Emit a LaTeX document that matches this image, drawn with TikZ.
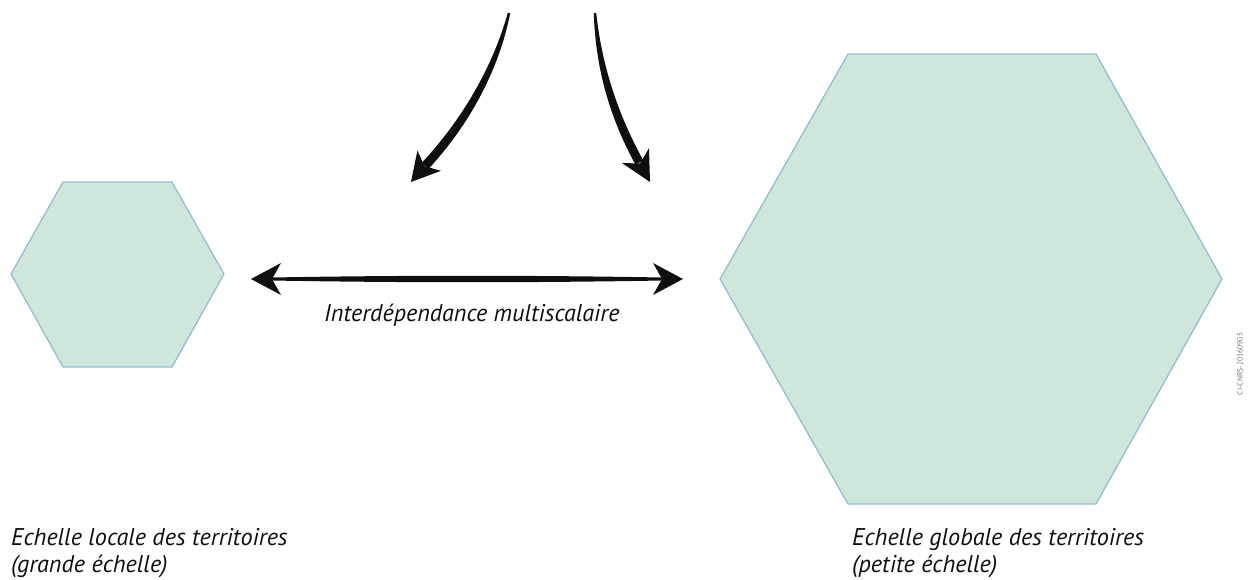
\documentclass[tikz,border=0pt]{standalone}
\usepackage{fontspec}
\setmainfont{PT Sans}
\usetikzlibrary{calc}
\definecolor{hexfill}{RGB}{206,230,219}
\definecolor{hexline}{RGB}{150,190,206}
\definecolor{ink}{RGB}{15,15,15}
\begin{document}
\begin{tikzpicture}[x=1pt,y=-1pt,
  hexa/.style={fill=hexfill,draw=hexline,line width=1.3pt,line join=miter},
  inkfill/.style={fill=ink,draw=none},
  caption/.style={font=\itshape\fontsize{24.2}{29}\selectfont,text=ink,inner sep=0pt,anchor=base west},
  stamp/.style={font=\fontsize{7.5}{8}\selectfont,text=black!55,inner sep=0pt,rotate=90}]
\useasboundingbox (0,0) rectangle (1251,579);

% small hexagon (local scale)
\coordinate (sW)  at (11,274);
\coordinate (sNW) at (63,182);
\coordinate (sNE) at (172,182);
\coordinate (sE)  at (224,274);
\coordinate (sSE) at (172,367);
\coordinate (sSW) at (63,367);
\draw[hexa] (sW) -- (sNW) -- (sNE) -- (sE) -- (sSE) -- (sSW) -- cycle;

% large hexagon (global scale)
\coordinate (bW)  at (720,279);
\coordinate (bNW) at (848,54);
\coordinate (bNE) at (1096,54);
\coordinate (bE)  at (1222,279);
\coordinate (bSE) at (1096,504);
\coordinate (bSW) at (848,504);
\draw[hexa] (bW) -- (bNW) -- (bNE) -- (bE) -- (bSE) -- (bSW) -- cycle;

% double-headed tapered arrow between the two scales
\coordinate (hL) at ($(sE)+(27,5)$);
\coordinate (hR) at ($(bW)+(-37,0)$);
\fill[inkfill] ($(hL)+(21,-1.5)$) .. controls ($(hL)+(150,-3.8)$) and ($(hR)+(-150,-3.8)$) .. ($(hR)+(-21,-1.5)$)
  -- ($(hR)+(-21,1.5)$) .. controls ($(hR)+(-150,3.8)$) and ($(hL)+(150,3.8)$) .. ($(hL)+(21,1.5)$) -- cycle;
\fill[inkfill] (hL) -- ($(hL)+(30,-16)$) -- ($(hL)+(21,0)$) -- ($(hL)+(30,16)$) -- cycle;
\fill[inkfill] (hR) -- ($(hR)+(-30,-16)$) -- ($(hR)+(-21,0)$) -- ($(hR)+(-30,16)$) -- cycle;

% left curved arrow from above
\coordinate (lTip) at (411,182);
\fill[inkfill] (507.8,12.8) .. controls (492.8,66.8) and (462.4,119.3) .. (421.7,162.9)
  -- (428.3,169.1) .. controls (469.6,124.7) and (499.2,69.3) .. (510.2,13.2) -- cycle;
\fill[inkfill] (lTip) -- (417.4,150.6) -- (424.5,166.2) -- (441.0,170.8) -- cycle;

% right curved arrow from above
\coordinate (rTip) at (650,182);
\fill[inkfill] (593.8,13.1) .. controls (595.6,70.7) and (610.9,119.8) .. (635.5,164.7)
  -- (643.3,160.5) .. controls (619.1,116.2) and (602.4,69.3) .. (596.2,12.9) -- cycle;
\fill[inkfill] (rTip) -- (622.0,163.0) -- (640.0,163.5) -- (649.0,148.2) -- cycle;

% captions
\node[caption] (inter) at (324,321) {Interdépendance multiscalaire};
\node[caption] (loc1) at (11,545) {Echelle locale des territoires};
\node[caption] (loc2) at (11,572) {(grande échelle)};
\node[caption] (glo1) at (852,545) {Echelle globale des territoires};
\node[caption] (glo2) at (852,572) {(petite échelle)};
\node[stamp] (ref) at (1240,364) {CI-CNRS-20160905};
\end{tikzpicture}
\end{document}
